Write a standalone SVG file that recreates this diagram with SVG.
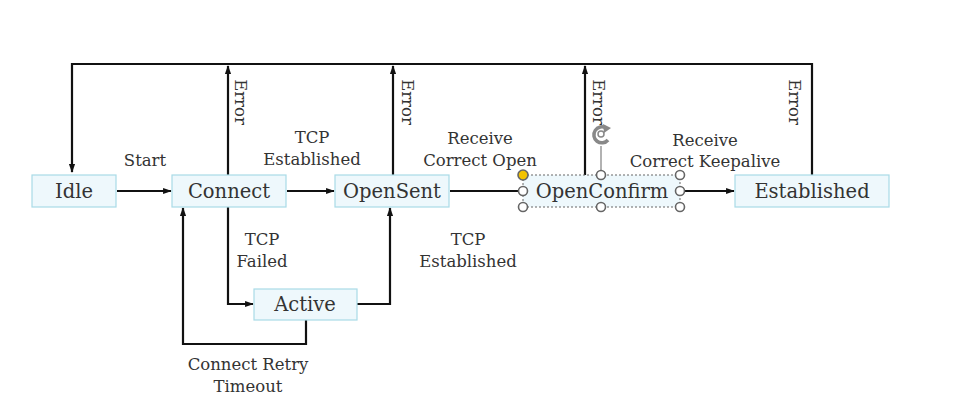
<svg xmlns="http://www.w3.org/2000/svg" width="967" height="410" viewBox="0 0 967 410">
<style>
.node{fill:#eef8fc;stroke:#a9dbe7;stroke-width:1.2}
.nt{font-family:"DejaVu Serif","Liberation Serif",serif;font-size:19.5px;fill:#333;text-anchor:middle}
.lb{font-family:"DejaVu Serif","Liberation Serif",serif;font-size:16.5px;fill:#333;text-anchor:middle}
.ln{fill:none;stroke:#111;stroke-width:2.2}
.h{fill:#fff;stroke:#666;stroke-width:1.6}
</style>
<defs>
<marker id="a" viewBox="0 0 10 10" refX="9" refY="5" markerWidth="4" markerHeight="4" orient="auto"><path d="M0,1.5 L10,5 L0,8.5 z" fill="#111"/></marker>
</defs>
<rect width="967" height="410" fill="#fff"/>
<g id="connectors">
<polyline class="ln" points="812,175 812,64 72,64 72,172" marker-end="url(#a)"/>
<line class="ln" x1="117" y1="191" x2="171" y2="191" marker-end="url(#a)"/>
<line class="ln" x1="287" y1="191" x2="334" y2="191" marker-end="url(#a)"/>
<line class="ln" x1="450" y1="191" x2="521" y2="191"/>
<line class="ln" x1="681" y1="191" x2="734" y2="191" marker-end="url(#a)"/>
<line class="ln" x1="228" y1="175" x2="228" y2="66" marker-end="url(#a)"/>
<line class="ln" x1="393" y1="175" x2="393" y2="66" marker-end="url(#a)"/>
<line class="ln" x1="585" y1="175" x2="585" y2="66" marker-end="url(#a)"/>
<polyline class="ln" points="228,207 228,304 253,304" marker-end="url(#a)"/>
<polyline class="ln" points="357,304 390,304 390,208" marker-end="url(#a)"/>
<polyline class="ln" points="306,320 306,344 183,344 183,208" marker-end="url(#a)"/>
</g>
<g id="labels">
<text class="lb" x="145" y="166">Start</text>
<text class="lb" x="312" y="143">TCP</text>
<text class="lb" x="312" y="165">Established</text>
<text class="lb" x="480" y="144">Receive</text>
<text class="lb" x="480" y="166">Correct Open</text>
<text class="lb" x="705" y="146">Receive</text>
<text class="lb" x="705" y="167">Correct Keepalive</text>
<text class="lb" x="262" y="245">TCP</text>
<text class="lb" x="262" y="267">Failed</text>
<text class="lb" x="468" y="245">TCP</text>
<text class="lb" x="468" y="267">Established</text>
<text class="lb" x="248" y="370">Connect Retry</text>
<text class="lb" x="248" y="392">Timeout</text>
<text class="lb" transform="translate(235,102) rotate(90)">Error</text>
<text class="lb" transform="translate(402,102) rotate(90)">Error</text>
<text class="lb" transform="translate(593,102) rotate(90)">Error</text>
<text class="lb" transform="translate(789,102) rotate(90)">Error</text>
</g>
<g id="idle"><rect class="node" x="32" y="175" width="84" height="32"/><text class="nt" x="74" y="198">Idle</text></g>
<g id="connect"><rect class="node" x="172" y="175" width="114" height="32"/><text class="nt" x="229" y="198">Connect</text></g>
<g id="opensent"><rect class="node" x="335" y="175" width="114" height="32"/><text class="nt" x="392" y="198">OpenSent</text></g>
<g id="openconfirm">
<rect x="523" y="175" width="157" height="32" fill="#eef8fc" stroke="#666" stroke-width="1" stroke-dasharray="2,2"/>
<text class="nt" x="602" y="198">OpenConfirm</text>
<line x1="601" y1="175" x2="601" y2="146" stroke="#999" stroke-width="1.5"/>
<path d="M608,140 A8,8 0 1 1 606,128" fill="none" stroke="#888" stroke-width="3.5"/>
<path d="M603,124 L611,128 L604,133 z" fill="#888"/>
<circle cx="601" cy="134" r="3" fill="none" stroke="#888" stroke-width="1.5"/>
<circle cx="523" cy="175" r="5" fill="#f2c200" stroke="#666" stroke-width="1.6"/>
<circle class="h" cx="601" cy="175" r="4.5"/>
<circle class="h" cx="680" cy="175" r="4.5"/>
<circle class="h" cx="523" cy="191" r="4.5"/>
<circle class="h" cx="680" cy="191" r="4.5"/>
<circle class="h" cx="523" cy="207" r="4.5"/>
<circle class="h" cx="601" cy="207" r="4.5"/>
<circle class="h" cx="680" cy="207" r="4.5"/>
</g>
<g id="established"><rect class="node" x="735" y="175" width="154" height="32"/><text class="nt" x="812" y="198">Established</text></g>
<g id="active"><rect class="node" x="254" y="289" width="103" height="31"/><text class="nt" x="305" y="311">Active</text></g>
</svg>
